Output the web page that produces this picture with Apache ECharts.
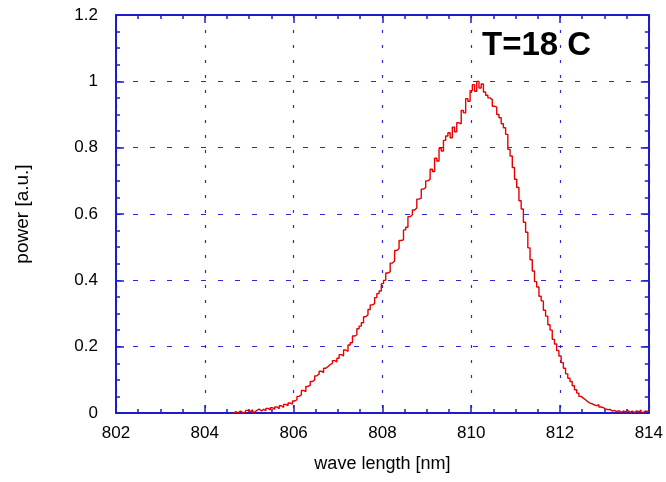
<!DOCTYPE html>
<html>
<head>
<meta charset="utf-8">
<script src="https://cdn.jsdelivr.net/npm/echarts@6/dist/echarts.min.js"></script>
<style>
html,body{margin:0;padding:0;background:#fff;}
#chart{width:666px;height:482px;}
</style>
</head>
<body>
<div id="chart"></div>
<script>
const titleText = "T=18 C";
const xAxisName = "wave length [nm]";
const yAxisName = "power [a.u.]";
const xTicks = [802, 804, 806, 808, 810, 812, 814];
const yTicks = [0, 0.2, 0.4, 0.6, 0.8, 1, 1.2];

const wavelength = [
804.65,804.70,804.75,804.80,804.85,804.90,804.95,805.00,805.05,805.10,805.15,805.20,805.25,805.30,805.35,805.40,805.45,805.50,805.55,805.60,
805.65,805.70,805.75,805.80,805.85,805.90,805.95,806.00,806.05,806.10,806.15,806.20,806.25,806.30,806.35,806.40,806.45,806.50,806.55,806.60,
806.65,806.70,806.75,806.80,806.85,806.90,806.95,807.00,807.05,807.10,807.15,807.20,807.25,807.30,807.35,807.40,807.45,807.50,807.55,807.60,
807.65,807.70,807.75,807.80,807.85,807.90,807.95,808.00,808.05,808.10,808.15,808.20,808.25,808.30,808.35,808.40,808.45,808.50,808.55,808.60,
808.65,808.70,808.75,808.80,808.85,808.90,808.95,809.00,809.05,809.10,809.15,809.20,809.25,809.30,809.35,809.40,809.45,809.50,809.55,809.60,
809.65,809.70,809.75,809.80,809.85,809.90,809.95,810.00,810.05,810.10,810.15,810.20,810.25,810.30,810.35,810.40,810.45,810.50,810.55,810.60,
810.65,810.70,810.75,810.80,810.85,810.90,810.95,811.00,811.05,811.10,811.15,811.20,811.25,811.30,811.35,811.40,811.45,811.50,811.55,811.60,
811.65,811.70,811.75,811.80,811.85,811.90,811.95,812.00,812.05,812.10,812.15,812.20,812.25,812.30,812.35,812.40,812.45,812.50,812.55,812.60,
812.65,812.70,812.75,812.80,812.85,812.90,812.95,813.00,813.05,813.10,813.15,813.20,813.25,813.30,813.35,813.40,813.45,813.50,813.55,813.60,
813.65,813.70,813.75,813.80,813.85,813.90,813.95,814.00
];

const power = [
0.000,0.004,0.000,0.006,0.002,0.000,0.008,0.004,0.010,0.003,0.008,0.012,0.006,0.011,0.007,0.014,0.009,0.016,0.011,0.018,
0.013,0.022,0.017,0.026,0.022,0.030,0.027,0.036,0.040,0.050,0.055,0.068,0.064,0.080,0.084,0.095,0.100,0.112,0.118,0.126,
0.122,0.135,0.140,0.146,0.150,0.158,0.154,0.165,0.176,0.172,0.190,0.186,0.205,0.212,0.232,0.236,0.254,0.262,0.272,0.290,
0.296,0.312,0.326,0.330,0.348,0.360,0.368,0.390,0.400,0.422,0.426,0.452,0.458,0.490,0.496,0.520,0.522,0.552,0.560,0.592,
0.598,0.612,0.618,0.645,0.648,0.675,0.680,0.700,0.705,0.735,0.728,0.768,0.760,0.798,0.790,0.822,0.835,0.845,0.830,0.862,
0.848,0.875,0.872,0.912,0.905,0.948,0.940,0.972,0.990,0.970,1.000,0.980,0.992,0.968,0.958,0.950,0.945,0.925,0.922,0.900,
0.890,0.872,0.860,0.840,0.795,0.775,0.740,0.705,0.680,0.640,0.615,0.575,0.545,0.498,0.462,0.428,0.396,0.380,0.352,0.338,
0.310,0.292,0.266,0.250,0.222,0.208,0.188,0.172,0.152,0.135,0.118,0.105,0.095,0.082,0.070,0.060,0.050,0.045,0.040,0.034,
0.030,0.028,0.024,0.022,0.025,0.018,0.016,0.012,0.010,0.011,0.006,0.008,0.004,0.007,0.002,0.006,0.003,0.008,0.002,0.006,
0.001,0.007,0.003,0.009,0.002,0.006,0.004,0.008
];

const seriesData = wavelength.map((w, i) => [w, power[i]]);

const axisBlue = '#1c1ccc';
const gridBlue = '#2a2ad0';
const fontFam = '"Liberation Sans", Arial, sans-serif';

function xAx(pos, main) {
  return {
    type: 'value', position: pos, min: xTicks[0], max: xTicks[xTicks.length - 1], interval: 2,
    name: main ? xAxisName : '', nameLocation: 'middle', nameGap: 42,
    nameTextStyle: { fontFamily: fontFam, fontSize: 18, color: '#000' },
    axisLine: { show: true, onZero: false, lineStyle: { color: axisBlue, width: 2 } },
    axisTick: { show: true, inside: true, length: 8, lineStyle: { color: axisBlue, width: 1.5 } },
    minorTick: { show: true, splitNumber: 4, length: 4, lineStyle: { color: axisBlue, width: 1.5 } },
    axisLabel: { show: main, margin: 12, fontFamily: fontFam, fontSize: 17, color: '#000' },
    splitLine: { show: main, lineStyle: { color: gridBlue, width: 1.2, type: [3, 12] } },
    minorSplitLine: { show: false }
  };
}
function yAx(pos, main) {
  return {
    type: 'value', position: pos, min: 0, max: 1.2, interval: 0.2,
    name: main ? yAxisName : '', nameLocation: 'middle', nameGap: 84, nameRotate: 90,
    nameTextStyle: { fontFamily: fontFam, fontSize: 19, color: '#000' },
    axisLine: { show: true, onZero: false, lineStyle: { color: axisBlue, width: 2 } },
    axisTick: { show: true, inside: true, length: 8, lineStyle: { color: axisBlue, width: 1.5 } },
    minorTick: { show: true, splitNumber: 4, length: 4, lineStyle: { color: axisBlue, width: 1.5 } },
    axisLabel: { show: main, margin: 18, fontFamily: fontFam, fontSize: 17, color: '#000',
      formatter: v => String(+v.toFixed(1)) },
    splitLine: { show: main, lineStyle: { color: gridBlue, width: 1.2, type: [5, 12] } },
    minorSplitLine: { show: false }
  };
}

const chart = echarts.init(document.getElementById('chart'), null, { renderer: 'canvas' });
chart.setOption({
  animation: false,
  backgroundColor: '#fff',
  grid: { left: 116, right: 17, top: 15, bottom: 69, containLabel: false },
  xAxis: [xAx('bottom', true), xAx('top', false)],
  yAxis: [yAx('left', true), yAx('right', false)],
  graphic: [{
    type: 'text', left: 482, top: 29, z: 10,
    style: { text: titleText, fontFamily: fontFam, fontSize: 33, fontWeight: 'bold', fill: '#000' }
  }],
  series: [{
    type: 'line', xAxisIndex: 0, yAxisIndex: 0, data: seriesData,
    showSymbol: false, step: 'middle',
    lineStyle: { color: '#e80000', width: 1.4 }, z: 5
  }]
});
</script>
</body>
</html>
